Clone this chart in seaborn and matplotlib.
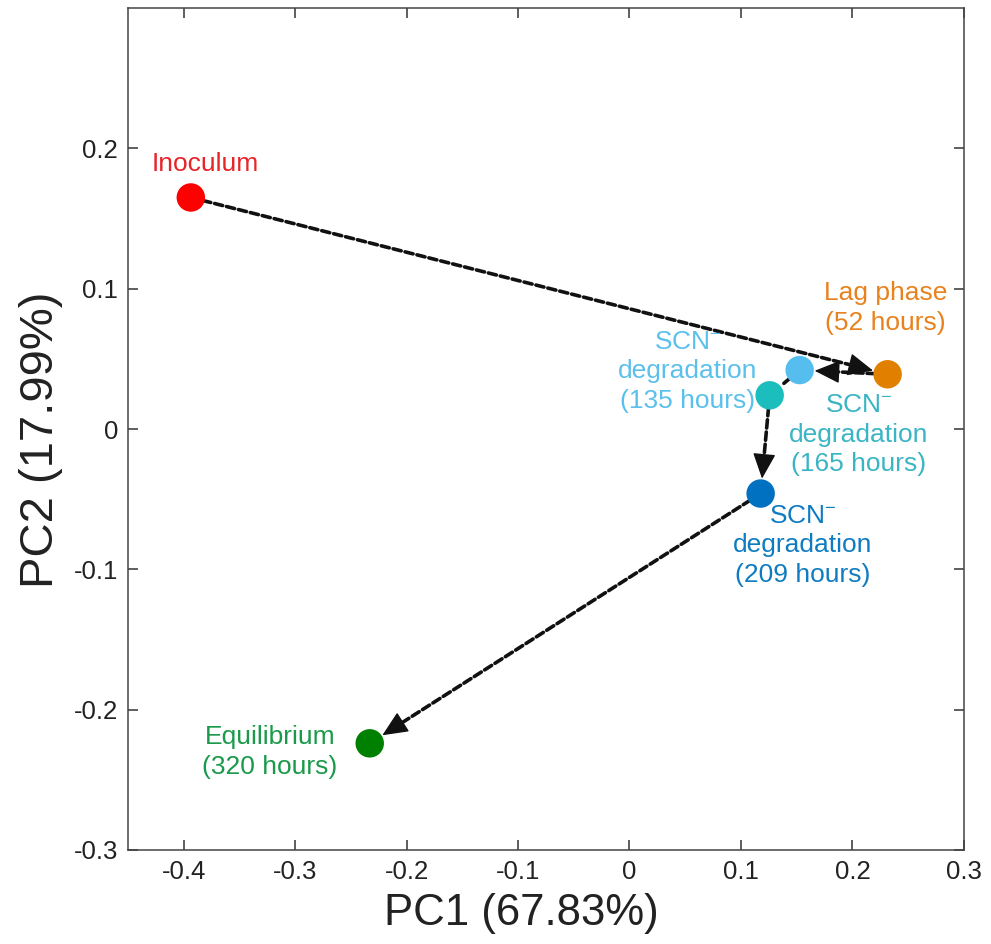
import numpy as np
import pandas as pd
import matplotlib
matplotlib.use("Agg")
import matplotlib.pyplot as plt
import seaborn as sns

# PCA scores
stages = ["Inoculum", "Lag phase", "SCN 135 h", "SCN 165 h", "SCN 209 h", "Equilibrium"]
pc1 = [-0.3935, 0.2316, 0.1527, 0.1258, 0.1177, -0.233]
pc2 = [0.165, 0.039, 0.042, 0.024, -0.046, -0.224]
marker_colors = ["#FF0000", "#E07F00", "#55BEEE", "#1CBDBD", "#0070C0", "#008000"]
label_colors = ["#E8242B", "#E8821E", "#5BC0EB", "#3AB5C4", "#0F7CC2", "#1A9A4A"]
label_texts = [
    "Inoculum",
    "Lag phase\n(52 hours)",
    "SCN$^{\\mathregular{-}}$\ndegradation\n(135 hours)",
    "SCN$^{\\mathregular{-}}$\ndegradation\n(165 hours)",
    "SCN$^{\\mathregular{-}}$\ndegradation\n(209 hours)",
    "Equilibrium\n(320 hours)",
]
label_x = [-0.381, 0.2298, 0.0522, 0.2056, 0.1554, -0.3226]
label_y = [0.189, 0.086, 0.041, -0.004, -0.083, -0.230]
# trajectory: (from, to, with head)
steps = [(0, 1, True), (1, 2, True), (2, 3, False), (3, 4, True), (4, 5, True)]

df = pd.DataFrame({"PC1": pc1, "PC2": pc2, "stage": stages})

sns.set_style("ticks")
plt.rcParams["font.family"] = ["Liberation Sans", "DejaVu Sans"]
plt.rcParams["mathtext.default"] = "regular"

fig = plt.figure(figsize=(9.91, 9.44), dpi=100)
ax = fig.add_axes([0.129, 0.0996, 0.8436, 0.8919])
ax.set_xlim(-0.45, 0.3)
ax.set_ylim(-0.3, 0.3)

sns.scatterplot(data=df, x="PC1", y="PC2", hue="stage", palette=marker_colors,
                s=420, edgecolor="none", legend=False, ax=ax, zorder=3)

# dashed shaft + solid head, in pixel space
to_px = ax.transData
to_data = ax.transData.inverted()
radius = 15.0
head_len = 22.0
for a, b, head in steps:
    p0 = to_px.transform((pc1[a], pc2[a]))
    p1 = to_px.transform((pc1[b], pc2[b]))
    d = (p1 - p0) / np.hypot(*(p1 - p0))
    tip = p1 - d * radius
    base = tip - d * head_len if head else tip
    ax.annotate("", xy=to_data.transform(base), xytext=(pc1[a], pc2[a]),
                arrowprops=dict(arrowstyle="-", color="#111111", lw=2.6,
                                linestyle=(0, (2.3, 1.1)), shrinkA=0, shrinkB=0),
                zorder=2)
    if head:
        ax.annotate("", xy=to_data.transform(tip), xytext=to_data.transform(base - d * 1),
                    arrowprops=dict(arrowstyle="-|>,head_length=0.8,head_width=0.36",
                                    color="#111111", lw=1, shrinkA=0, shrinkB=0,
                                    mutation_scale=20),
                    zorder=2)

for txt, tx, ty, c in zip(label_texts, label_x, label_y, label_colors):
    ax.text(tx, ty, txt, color=c, fontsize=19, ha="center", va="center",
            linespacing=1.3)

ax.set_xticks([-0.4, -0.3, -0.2, -0.1, 0, 0.1, 0.2, 0.3])
ax.set_xticklabels(["-0.4", "-0.3", "-0.2", "-0.1", "0", "0.1", "0.2", "0.3"])
ax.set_yticks([-0.3, -0.2, -0.1, 0, 0.1, 0.2])
ax.set_yticklabels(["-0.3", "-0.2", "-0.1", "0", "0.1", "0.2"])
ax.tick_params(direction="in", length=7, width=1.1, top=True, right=True,
               labelsize=18.5, colors="#333333", labelcolor="#222222", pad=7)
for sp in ax.spines.values():
    sp.set_visible(True)
    sp.set_color("#444444")
    sp.set_linewidth(1.1)

ax.set_xlabel("PC1 (67.83%)", fontsize=31.5, color="#222222")
ax.set_ylabel("PC2 (17.99%)", fontsize=34, color="#222222")
ax.xaxis.set_label_coords(0.4707, -0.051)
ax.yaxis.set_label_coords(-0.078, 0.487)

fig.savefig("out.png", dpi=100)
